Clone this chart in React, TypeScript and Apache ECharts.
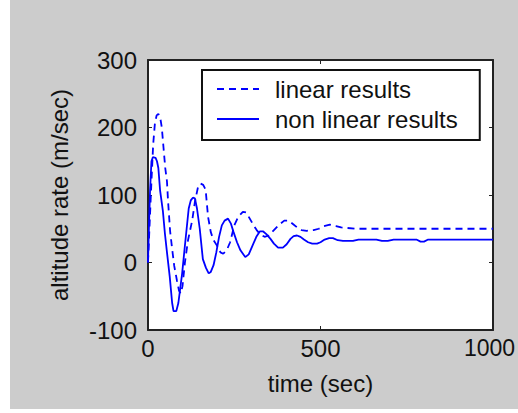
import React, { useEffect, useRef } from "react";
import * as echarts from "echarts";

const seriesNames = ["linear results", "non linear results"];

const linearTime = [0, 5, 10, 15, 20, 25, 30, 35, 40, 45, 50, 55, 58, 64, 70, 76, 84, 90, 95, 100, 107, 116, 128, 136, 145, 152, 160, 167, 174, 182, 190, 200, 210, 218, 228, 238, 250, 262, 275, 285, 295, 305, 315, 325, 338, 350, 365, 380, 395, 408, 420, 432, 445, 460, 480, 495, 510, 527, 545, 560, 600, 650, 700, 1000];
const linearRate = [0, 60, 120, 175, 206, 218, 220, 216, 200, 170, 140, 120, 92, 47, 20, -5, -27, -42, -46, -35, 0, 33, 62, 90, 112, 117, 115, 108, 68, 45, 33, 25, 15, 13, 18, 30, 55, 68, 75, 74, 65, 56, 48, 42, 38, 40, 48, 56, 62, 62, 57, 52, 48, 47, 48, 50, 54, 56, 54, 52, 50, 50, 50, 50];

const nonlinearTime = [0, 3, 6, 10, 14, 22, 26, 30, 35, 43, 49, 55, 63, 70, 74, 82, 88, 93, 99, 106, 112, 118, 124, 130, 136, 142, 150, 159, 168, 176, 182, 190, 198, 206, 214, 222, 232, 240, 248, 258, 268, 282, 292, 302, 314, 324, 334, 343, 355, 365, 377, 391, 402, 413, 422, 432, 442, 452, 464, 476, 490, 500, 512, 525, 536, 550, 565, 594, 610, 640, 662, 678, 695, 712, 760, 778, 790, 800, 812, 1000];
const nonlinearRate = [0, 58, 107, 150, 156, 155, 150, 140, 107, 77, 43, 15, -21, -60, -72, -72, -60, -40, -16, 20, 50, 80, 92, 96, 95, 80, 50, 5, -8, -16, -14, -4, 15, 38, 55, 62, 65, 58, 45, 30, 18, 8, 12, 24, 38, 46, 46, 42, 35, 28, 22, 22, 27, 35, 39, 40, 38, 34, 30, 28, 28, 30, 34, 36, 36, 33, 32, 32, 34, 34, 34, 32, 32, 34, 34, 34, 31, 31, 34, 34];

const xMin = 0, xMax = 1000, xStep = 500;
const yMin = -100, yMax = 300, yStep = 100;

const FONT = "'Liberation Sans', Arial, Helvetica, sans-serif";
const INK = "#111";
const BLUE = "#0000ff";

export default function App() {
  const ref = useRef<HTMLDivElement>(null);
  useEffect(() => {
    const chart = echarts.init(ref.current!, null, { renderer: "svg" });
    const axisLine = { show: true, onZero: false, lineStyle: { color: "#222", width: 2 } };
    const axisTick = { show: true, inside: true, length: 4, lineStyle: { color: "#222", width: 1 } };
    const labelStyle = { fontSize: 24, color: INK, fontFamily: FONT };
    const plain = (v: number) => String(v);
    const xLabel = (v: number) => (v === xMax ? `{edge|${v}}` : String(v));
    chart.setOption({
      animation: false,
      backgroundColor: "transparent",
      grid: {
        left: 148, right: 25, top: 60, bottom: 83,
        show: true, backgroundColor: "#ffffff", borderWidth: 0,
        containLabel: false, outerBoundsMode: "none",
      },
      legend: {
        data: seriesNames,
        orient: "vertical",
        left: 202,
        top: 70,
        itemWidth: 42,
        itemHeight: 14,
        itemGap: 6,
        padding: [7, 22, 9, 14],
        borderColor: "#111",
        borderWidth: 2,
        backgroundColor: "#ffffff",
        borderRadius: 0,
        itemStyle: { opacity: 0 },
        textStyle: { fontSize: 24, color: INK, fontFamily: FONT, lineHeight: 24, padding: [0, 0, 0, 11] },
      },
      xAxis: [
        {
          type: "value", min: xMin, max: xMax, interval: xStep, position: "bottom",
          axisLine, axisTick, splitLine: { show: false },
          axisLabel: {
            ...labelStyle, margin: 6, formatter: xLabel, hideOverlap: false,
            rich: { edge: { ...labelStyle, fontSize: 23, padding: [0, 7, 0, 0] } },
          },
          name: "time (sec)", nameLocation: "middle", nameGap: 41,
          nameTextStyle: { ...labelStyle },
        },
        {
          type: "value", min: xMin, max: xMax, interval: xStep, position: "top",
          axisLine, axisTick, splitLine: { show: false }, axisLabel: { show: false },
        },
      ],
      yAxis: [
        {
          type: "value", min: yMin, max: yMax, interval: yStep, position: "left",
          axisLine, axisTick, splitLine: { show: false },
          axisLabel: { ...labelStyle, margin: 11, formatter: plain },
          name: "altitude rate (m/sec)", nameLocation: "middle", nameGap: 77,
          nameTextStyle: { ...labelStyle },
        },
        {
          type: "value", min: yMin, max: yMax, interval: yStep, position: "right",
          axisLine, axisTick, splitLine: { show: false }, axisLabel: { show: false },
        },
      ],
      series: [
        {
          name: seriesNames[0], type: "line", xAxisIndex: 0, yAxisIndex: 0,
          data: linearTime.map((t, i) => [t, linearRate[i]]),
          symbol: "none", showSymbol: false,
          lineStyle: { color: BLUE, width: 1.8, type: [7, 5] },
          itemStyle: { color: BLUE },
        },
        {
          name: seriesNames[1], type: "line", xAxisIndex: 0, yAxisIndex: 0,
          data: nonlinearTime.map((t, i) => [t, nonlinearRate[i]]),
          symbol: "none", showSymbol: false,
          lineStyle: { color: BLUE, width: 1.8, type: "solid" },
          itemStyle: { color: BLUE },
        },
      ],
    });
    return () => chart.dispose();
  }, []);
  return (
    <div style={{ position: "fixed", left: 0, top: 0, width: 518, height: 413, background: "#ffffff", overflow: "hidden" }}>
      <div style={{ position: "absolute", left: 10, top: 0, width: 508, height: 409, background: "#cccccc" }} />
      <div ref={ref} style={{ position: "absolute", left: 0, top: 0, width: 518, height: 413 }} />
    </div>
  );
}
